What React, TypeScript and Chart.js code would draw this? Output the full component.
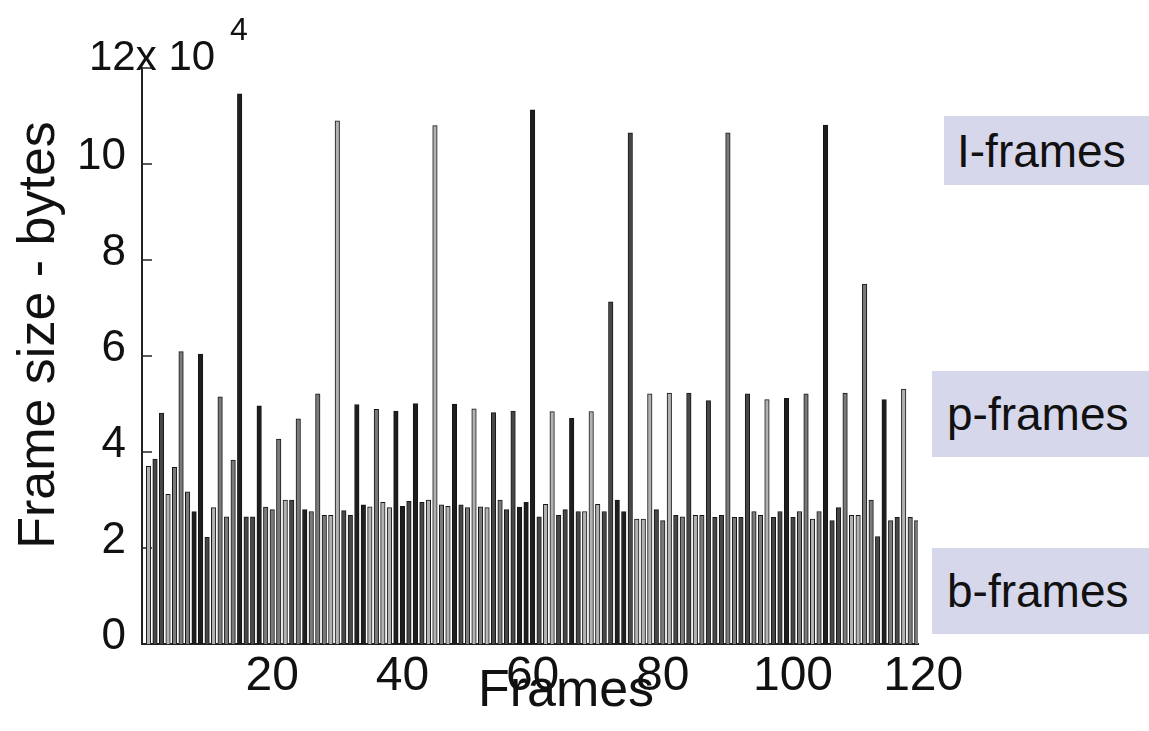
import React, { useEffect, useRef } from 'react';
import { Chart, registerables } from 'chart.js';

Chart.register(...registerables);

// Frame sizes in bytes, frames 1..119
const FRAME_SIZES = [
  37000, 38500, 48100, 31200, 36800, 60900, 31700, 27600, 60400, 22200,
  28400, 51500, 26500, 38300, 114600, 26500, 26500, 49600, 28500, 28000,
  42700, 30000, 30000, 46900, 28000, 27600, 52100, 26800, 26800, 109000,
  27800, 26800, 49900, 29000, 28600, 48900, 29500, 28400, 48500, 28700,
  29700, 50100, 29500, 30000, 108000, 29000, 28700, 50000, 29000, 28400,
  49000, 28600, 28400, 48200, 30000, 28000, 48500, 28500, 29500, 111300,
  26500, 29100, 48400, 26800, 28000, 47000, 27600, 27600, 48400, 29100,
  27600, 71300, 30000, 27600, 106500, 26000, 26000, 52100, 28000, 25700,
  52300, 26800, 26500, 52300, 26800, 26800, 50700, 26400, 26800, 106500,
  26400, 26400, 52100, 27600, 26800, 50900, 26400, 27600, 51200, 26400,
  27600, 52100, 26000, 27600, 108100, 25700, 28400, 52300, 26800, 26800,
  75000, 30000, 22400, 50900, 25700, 26400, 53100, 26400, 25700,
];
const FRAMES = FRAME_SIZES.map((_, i) => i + 1);
const X_TICKS = [20, 40, 60, 80, 100, 120];
const Y_TICKS = [0, 20000, 40000, 60000, 80000, 100000, 120000];
const FRAME_TYPE_LABELS = ['I-frames', 'p-frames', 'b-frames'];
const X_TITLE = 'Frames';
const Y_TITLE = 'Frame size - bytes';

// styling: shade of each bar (k black, d dark, g grey, l light)
const BAR_TONES =
  'lddlgggkkd' + 'lgggkddkgg' + 'gldgkgggll' + 'ddkklgllkk' + 'dkdllglkdg' +
  'lgldgddkkk' + 'dllddkdlll' + 'ddkkdllldg' + 'ldgdlgdddg' + 'gddgglddkd' +
  'gglgkddgll' + 'ggdkgdlgg';
const TONE_FILL: Record<string, string> = { k: '#1e1e1e', d: '#474747', g: '#7a7a7a', l: '#b2b2b2' };
const FONT = '"Liberation Sans", Arial, sans-serif';

const decorPlugin = {
  id: 'decor',
  beforeDatasetsDraw(chart: any) {
    const { ctx, chartArea, scales } = chart;
    ctx.save();
    ctx.strokeStyle = '#222';
    ctx.lineWidth = 1.5;
    for (const v of Y_TICKS) {
      const y = scales.y.getPixelForValue(v);
      ctx.beginPath();
      ctx.moveTo(chartArea.left, y);
      ctx.lineTo(chartArea.left + 10, y);
      ctx.stroke();
    }
    for (const v of X_TICKS) {
      const x = scales.x.getPixelForValue(v);
      if (x > chartArea.right + 1) continue;
      ctx.beginPath();
      ctx.moveTo(x, chartArea.bottom);
      ctx.lineTo(x, chartArea.bottom - 10);
      ctx.stroke();
    }
    ctx.restore();
  },
  afterDraw(chart: any) {
    const { ctx } = chart;
    ctx.save();
    ctx.fillStyle = '#111';
    // y title
    ctx.save();
    ctx.translate(54, 335);
    ctx.rotate(-Math.PI / 2);
    ctx.textAlign = 'center';
    ctx.textBaseline = 'alphabetic';
    ctx.font = `52px ${FONT}`;
    ctx.fillText(Y_TITLE, 0, 0);
    ctx.restore();
    // x title
    ctx.textAlign = 'center';
    ctx.textBaseline = 'alphabetic';
    ctx.font = `52px ${FONT}`;
    ctx.fillText(X_TITLE, 566, 706);
    // multiplier
    ctx.textAlign = 'left';
    ctx.font = `42px ${FONT}`;
    const top = String(Y_TICKS[Y_TICKS.length - 1] / 10000);
    ctx.fillText(top + 'x 10', 89, 70);
    ctx.font = `32px ${FONT}`;
    ctx.fillText('4', 230, 40);
    ctx.restore();
  },
};

export default function App() {
  const ref = useRef<HTMLCanvasElement | null>(null);

  useEffect(() => {
    document.body.style.margin = '0';
    const canvas = ref.current;
    if (!canvas) return;
    const chart = new Chart(canvas, {
      type: 'bar',
      data: {
        datasets: [
          {
            data: FRAME_SIZES.map((y, i) => ({ x: FRAMES[i], y })),
            backgroundColor: FRAME_SIZES.map((_, i) => TONE_FILL[BAR_TONES[i]] || '#777'),
            borderColor: '#161616',
            borderWidth: 1,
            barThickness: 4.5,
          } as any,
        ],
      },
      options: {
        responsive: false,
        animation: false,
        layout: { padding: { top: 68, right: 231, left: 0, bottom: 0 } },
        plugins: { legend: { display: false }, tooltip: { enabled: false }, title: { display: false } },
        scales: {
          x: {
            type: 'linear',
            min: 0,
            max: 119.2,
            offset: false,
            grid: { display: false, offset: false },
            border: { display: true, color: '#222', width: 2 },
            afterBuildTicks: (scale: any) => {
              scale.ticks = X_TICKS.map((v) => ({ value: v }));
            },
            afterFit: (scale: any) => {
              scale.height = 87;
            },
            ticks: {
              autoSkip: false,
              maxRotation: 0,
              padding: -4,
              color: '#111',
              font: { family: FONT, size: 48 },
              callback: (v: any) => String(v),
            },
          },
          y: {
            min: 0,
            max: 120000,
            grid: { display: false },
            border: { display: true, color: '#222', width: 2 },
            afterBuildTicks: (scale: any) => {
              scale.ticks = Y_TICKS.map((v) => ({ value: v }));
            },
            afterFit: (scale: any) => {
              scale.width = 142;
            },
            ticks: {
              padding: 8,
              labelOffset: -7,
              color: '#111',
              font: { family: FONT, size: 44 },
              callback: (v: any) => (v === Y_TICKS[Y_TICKS.length - 1] ? '' : String(v / 10000)),
            },
          },
        },
      },
      plugins: [decorPlugin],
    });
    return () => chart.destroy();
  }, []);

  const boxes = [
    { left: 944, top: 116, width: 205, height: 69 },
    { left: 932, top: 371, width: 217, height: 86 },
    { left: 932, top: 548, width: 217, height: 86 },
  ];

  return (
    <div style={{ position: 'fixed', left: 0, top: 0, width: 1149, height: 731, background: '#fff', overflow: 'hidden' }}>
      <canvas ref={ref} width={1149} height={731} style={{ width: 1149, height: 731, display: 'block' }} />
      {FRAME_TYPE_LABELS.map((t, i) => (
        <div
          key={t}
          style={{
            position: 'absolute',
            left: boxes[i].left,
            top: boxes[i].top,
            width: boxes[i].width,
            height: boxes[i].height,
            background: '#d7d7ec',
            display: 'flex',
            alignItems: 'center',
            paddingLeft: i === 0 ? 13 : 15,
            boxSizing: 'border-box',
            fontFamily: FONT,
            fontSize: 46,
            color: '#111',
            whiteSpace: 'nowrap',
          }}
        >
          {t}
        </div>
      ))}
    </div>
  );
}
